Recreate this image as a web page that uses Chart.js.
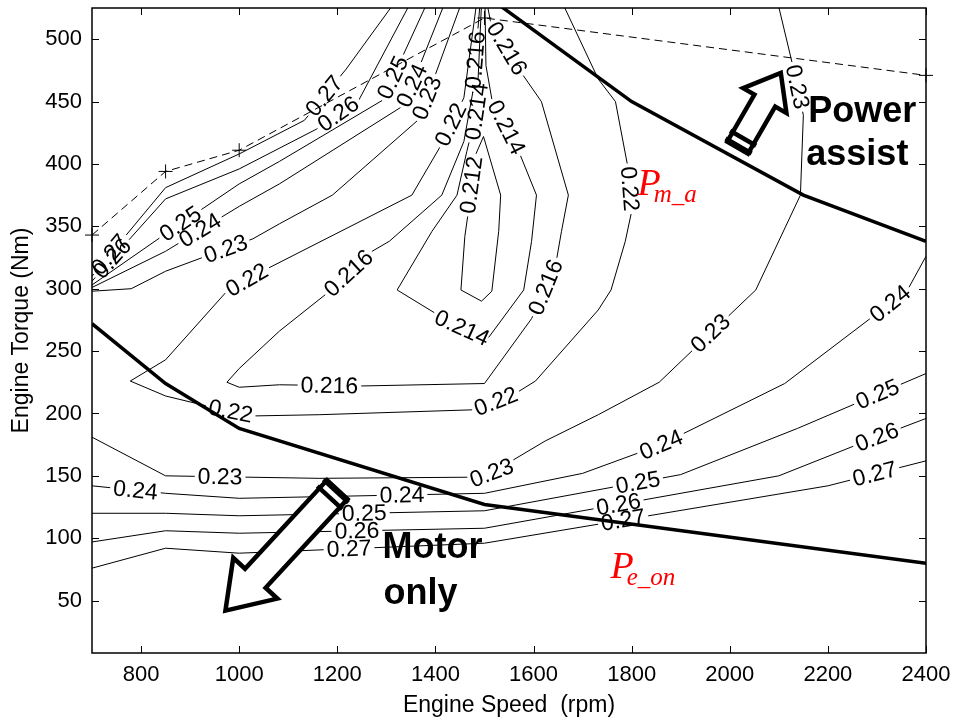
<!DOCTYPE html>
<html>
<head>
<meta charset="utf-8">
<script src="https://cdn.jsdelivr.net/npm/chart.js@4.4.1/dist/chart.umd.min.js"></script>
<style>
  html, body { margin: 0; background: #fff; }
  canvas { display: block; }
</style>
</head>
<body>
<canvas id="bsfcMap" width="958" height="725"></canvas>
<script>
// axis ticks
const rpmTicks = [800, 1000, 1200, 1400, 1600, 1800, 2000, 2200, 2400];
const torqueTicks = [50, 100, 150, 200, 250, 300, 350, 400, 450, 500];

// maximum torque curve
const maxTqRpm = [700, 850, 1000, 1500, 2400];
const maxTqNm = [343, 394, 411, 517, 471];

// engine-on boundary (below: motor only)
const peOnRpm = [700, 850, 1000, 1500, 2400];
const peOnNm = [272, 224, 188, 127, 80];

// motor-assist boundary (above: power assist)
const pmaRpm = [1500, 1800, 2150, 2400];
const pmaNm = [536, 450, 375, 338];

// BSFC iso-lines [rpm, Nm], upper-left fan
const iso027a = [[700,310],[850,381],[1000,408],[1133,435],[1218,476],[1316,529]];
const iso026a = [[700,306],[850,372],[1000,396],[1158,428],[1245,452],[1349,529]];
const iso025a = [[700,303],[850,344],[1000,384],[1082,402],[1292,451],[1383,529]];
const iso024a = [[700,301],[850,330],[1000,366],[1082,384],[1336,447],[1419,529]];
const iso023a = [[700,298],[780,300],[850,314],[1028,340],[1082,352],[1190,375],[1367,436],[1453,529]];
// low-load / right-hand branches
const iso023b = [[700,181],[850,150],[1163,148],[1500,149],[1624,178],[1732,199],[1856,225],[2053,299],[2144,375],[2150,439],[2132,473],[2098,529]];
const iso024b = [[700,142],[850,136],[1000,132],[1500,136],[1700,152],[1860,175],[2112,224],[2286,276],[2361,298],[2400,326]];
const iso025b = [[700,120],[850,120],[1000,118],[1500,122],[1900,151],[2138,188],[2400,232]];
const iso026b = [[700,97],[850,106],[1000,104],[1500,108],[2100,150],[2260,175],[2400,196]];
const iso027b = [[700,76],[850,92],[1000,88],[1500,96],[2200,142],[2400,162]];
// sweet-spot region
const iso022 = [[1484,529],[1458,453],[1407,412],[1352,375],[1052,315],[975,298],[850,243],[778,226],[850,214],[934,206],[1027,198],[1163,199],[1482,203],[1563,216],[1604,226],[1732,283],[1758,299],[1787,338],[1800,362],[1793,396],[1767,450],[1732,468],[1659,529]];
const iso0216 = [[1491,529],[1476,457],[1458,418],[1413,375],[1306,338],[1271,330],[1178,296],[1082,266],[1000,236],[975,225],[1000,221],[1082,223],[1245,222],[1500,224],[1596,276],[1645,319],[1657,346],[1671,375],[1616,450],[1570,476],[1512,515],[1505,529]];
const iso0214 = [[1494,529],[1484,442],[1464,410],[1444,375],[1393,346],[1322,299],[1401,280],[1503,258],[1580,299],[1596,338],[1606,375],[1570,410],[1515,452],[1503,479],[1501,529]];
const iso0212 = [[1498,422],[1476,402],[1472,375],[1460,342],[1452,299],[1494,290],[1515,298],[1529,346],[1533,375],[1498,422]];

// where each line carries its value label [rpm, Nm]
const lab027a = [[741,326],[1178,453]];
const lab026a = [[753,320],[1204,439]];
const lab025a = [[875,355],[1320,468]];
const lab024a = [[920,347],[1363,461]];
const lab023a = [[977,327],[1403,450]];
const lab023b = [[961,146],[1509,156],[1966,262],[2128,461]];
const lab024b = [[788,136],[1332,136],[1860,175],[2327,288]];
const lab025b = [[1255,120],[1813,144],[2307,210]];
const lab026b = [[1240,106],[1772,130],[2301,180]];
const lab027b = [[1224,91],[1783,114],[2297,149]];
const lab022 = [[1434,431],[1017,306],[981,199],[1525,208],[1793,380]];
const lab0216 = [[1488,483],[1224,312],[1184,222],[1631,300],[1543,492]];
const lab0214 = [[1484,442],[1448,264],[1553,431]];
const lab0212 = [[1482,383]];

const isoLines = [
  ['0.27', iso027a, lab027a], ['0.26', iso026a, lab026a], ['0.25', iso025a, lab025a],
  ['0.24', iso024a, lab024a], ['0.23', iso023a, lab023a],
  ['0.23', iso023b, lab023b], ['0.24', iso024b, lab024b], ['0.25', iso025b, lab025b],
  ['0.26', iso026b, lab026b], ['0.27', iso027b, lab027b],
  ['0.22', iso022, lab022], ['0.216', iso0216, lab0216], ['0.214', iso0214, lab0214],
  ['0.212', iso0212, lab0212]
];

// annotation anchors [rpm, Nm]
const assistArrow = [[2016, 413], [2104, 473]];
const motorArrow = [[1200, 139], [972, 42]];

const SANS = '"Liberation Sans", Arial, Helvetica, sans-serif';
const SERIF = '"Liberation Serif", "Times New Roman", serif';
const labelFont = '23px ' + SANS;
let placedLabels = [];

const toXY = (xs, ys) => xs.map((x, i) => ({ x, y: ys[i] }));

const datasets = isoLines.map(([level, pts]) => ({
  label: level,
  data: pts.map(([x, y]) => ({ x, y })),
  borderColor: '#000',
  borderWidth: 1,
  pointRadius: 0,
  tension: 0,
  spanGaps: false,
  order: 3
}));
datasets.push({
  label: 'max torque',
  data: toXY(maxTqRpm, maxTqNm),
  borderColor: '#000',
  borderWidth: 1,
  borderDash: [8, 5],
  pointStyle: 'cross',
  pointRadius: 7,
  pointBorderWidth: 1,
  pointBorderColor: '#000',
  tension: 0,
  clip: false,
  order: 2
});
[[peOnRpm, peOnNm], [pmaRpm, pmaNm]].forEach(([r, t]) => datasets.push({
  label: 'boundary',
  data: toXY(r, t),
  borderColor: '#000',
  borderWidth: 3.5,
  pointRadius: 0,
  tension: 0,
  order: 1
}));

// box around the plot with inward ticks on all four sides
const frame = {
  id: 'frame',
  afterDatasetsDraw(chart) {
    const { ctx, chartArea: a, scales: { x, y } } = chart;
    ctx.save();
    ctx.strokeStyle = '#000';
    ctx.lineWidth = 1;
    ctx.beginPath();
    rpmTicks.forEach(v => {
      const p = Math.round(x.getPixelForValue(v)) + 0.5;
      ctx.moveTo(p, a.bottom); ctx.lineTo(p, a.bottom - 7);
      ctx.moveTo(p, a.top); ctx.lineTo(p, a.top + 7);
    });
    torqueTicks.forEach(v => {
      const p = Math.round(y.getPixelForValue(v)) + 0.5;
      ctx.moveTo(a.left, p); ctx.lineTo(a.left + 7, p);
      ctx.moveTo(a.right, p); ctx.lineTo(a.right - 7, p);
    });
    ctx.stroke();
    ctx.lineWidth = 1.5;
    ctx.strokeRect(a.left, a.top, a.right - a.left, a.bottom - a.top);
    ctx.restore();
  }
};

function blockArrow(ctx, x0, y0, x1, y1, hw, hh, hl) {
  const len = Math.hypot(x1 - x0, y1 - y0);
  ctx.save();
  ctx.translate(x0, y0);
  ctx.rotate(Math.atan2(y1 - y0, x1 - x0));
  ctx.beginPath();
  ctx.moveTo(0, -hw);
  ctx.lineTo(len - hl, -hw);
  ctx.lineTo(len - hl, -hh);
  ctx.lineTo(len, 0);
  ctx.lineTo(len - hl, hh);
  ctx.lineTo(len - hl, hw);
  ctx.lineTo(0, hw);
  ctx.closePath();
  ctx.fillStyle = '#fff';
  ctx.fill();
  ctx.lineWidth = 4.5;
  ctx.lineJoin = 'miter';
  ctx.strokeStyle = '#000';
  ctx.stroke();
  // striped cap at the tail
  [2, 11].forEach(d => {
    ctx.beginPath();
    ctx.moveTo(d, -hw - 3);
    ctx.lineTo(d, hw + 3);
    ctx.stroke();
  });
  ctx.restore();
}

function subscripted(ctx, x, y, main, sub) {
  ctx.font = 'italic 38px ' + SERIF;
  ctx.fillText(main, x, y);
  const w = ctx.measureText(main).width;
  ctx.font = 'italic 25px ' + SERIF;
  ctx.fillText(sub, x + w - 7, y + 7);
}

const notes = {
  id: 'notes',
  afterDraw(chart) {
    const { ctx, scales: { x, y } } = chart;
    const P = ([r, t]) => [x.getPixelForValue(r), y.getPixelForValue(t)];
    ctx.save();
    ctx.fillStyle = '#000';
    ctx.font = labelFont;
    ctx.textAlign = 'center';
    ctx.textBaseline = 'middle';
    placedLabels.forEach(l => {
      ctx.save();
      ctx.translate(l.x, l.y);
      ctx.rotate(l.ang);
      ctx.fillText(l.text, 0, 1);
      ctx.restore();
    });

    blockArrow(ctx, ...P(assistArrow[0]), ...P(assistArrow[1]), 12, 25, 32);
    blockArrow(ctx, ...P(motorArrow[0]), ...P(motorArrow[1]), 14, 30, 44);

    ctx.textAlign = 'left';
    ctx.textBaseline = 'alphabetic';
    ctx.font = 'bold 36px ' + SANS;
    ctx.fillText('Power', ...P([2160, 434]));
    ctx.fillText('assist', ...P([2156, 399]));
    ctx.fillText('Motor', ...P([1292, 84]));
    ctx.fillText('only', ...P([1294, 47]));

    ctx.fillStyle = '#ff0000';
    subscripted(ctx, ...P([1812, 375]), 'P', 'm_a');
    subscripted(ctx, ...P([1757, 68]), 'P', 'e_on');
    ctx.restore();
  }
};

const chart = new Chart(document.getElementById('bsfcMap'), {
  type: 'line',
  data: { datasets },
  options: {
    responsive: false,
    animation: false,
    devicePixelRatio: 1,
    layout: { padding: { top: 7, right: 32, left: 0, bottom: 0 } },
    plugins: { legend: { display: false }, tooltip: { enabled: false } },
    scales: {
      x: {
        type: 'linear',
        min: 700,
        max: 2400,
        grid: { display: false, drawTicks: false },
        border: { display: false },
        afterBuildTicks: s => { s.ticks = rpmTicks.map(v => ({ value: v })); },
        afterFit: s => { s.height = 72; s.paddingLeft = 0; s.paddingRight = 0; },
        ticks: { font: { family: SANS, size: 22 }, color: '#000', padding: 9, maxRotation: 0, autoSkip: false, callback: v => String(v) },
        title: { display: true, text: 'Engine Speed  (rpm)', color: '#000', font: { family: SANS, size: 23 }, padding: { top: 0, bottom: 6 } }
      },
      y: {
        type: 'linear',
        min: 8,
        max: 525,
        grid: { display: false, drawTicks: false },
        border: { display: false },
        afterBuildTicks: s => { s.ticks = torqueTicks.map(v => ({ value: v })); },
        afterFit: s => { s.width = 92; s.paddingTop = 0; s.paddingBottom = 0; },
        ticks: { font: { family: SANS, size: 22 }, color: '#000', padding: 10, autoSkip: false, callback: v => String(v) },
        title: { display: true, text: 'Engine Torque (Nm)', color: '#000', font: { family: SANS, size: 23 }, padding: { top: 8, bottom: 0 } }
      }
    }
  },
  plugins: [frame, notes]
});

// put the value labels on their lines and open a gap in the line under each one
function placeLabels(chart) {
  const xs = chart.scales.x, ys = chart.scales.y, ctx = chart.ctx;
  ctx.save();
  ctx.font = labelFont;
  placedLabels = [];
  isoLines.forEach(([level, pts, anchors], i) => {
    const px = pts.map(([r, t]) => [xs.getPixelForValue(r), ys.getPixelForValue(t)]);
    const cum = [0];
    for (let k = 1; k < px.length; k++) {
      cum.push(cum[k - 1] + Math.hypot(px[k][0] - px[k - 1][0], px[k][1] - px[k - 1][1]));
    }
    const total = cum[cum.length - 1];
    const at = s => {
      s = Math.max(0, Math.min(total, s));
      let k = 1;
      while (k < cum.length - 1 && cum[k] < s) k++;
      const seg = cum[k] - cum[k - 1] || 1;
      const u = (s - cum[k - 1]) / seg;
      return [px[k - 1][0] + u * (px[k][0] - px[k - 1][0]), px[k - 1][1] + u * (px[k][1] - px[k - 1][1])];
    };
    const half = ctx.measureText(level).width / 2 + 3;
    const cuts = [];
    anchors.forEach(anchor => {
      const ax = xs.getPixelForValue(anchor[0]), ay = ys.getPixelForValue(anchor[1]);
      let best = { d: Infinity, s: 0 };
      for (let k = 1; k < px.length; k++) {
        const [x0, y0] = px[k - 1], [x1, y1] = px[k];
        const dx = x1 - x0, dy = y1 - y0, L2 = dx * dx + dy * dy;
        let u = L2 ? ((ax - x0) * dx + (ay - y0) * dy) / L2 : 0;
        u = Math.max(0, Math.min(1, u));
        const d = Math.hypot(ax - (x0 + u * dx), ay - (y0 + u * dy));
        if (d < best.d) best = { d, s: cum[k - 1] + u * Math.sqrt(L2) };
      }
      const s = Math.min(Math.max(best.s, half), total - half);
      const c = at(s), a = at(s - half), b = at(s + half);
      let ang = Math.atan2(b[1] - a[1], b[0] - a[0]);
      if (ang > Math.PI / 2) ang -= Math.PI;
      else if (ang <= -Math.PI / 2) ang += Math.PI;
      placedLabels.push({ text: level, x: c[0], y: c[1], ang });
      cuts.push([s - half, s + half]);
    });
    cuts.sort((p, q) => p[0] - q[0]);
    const toData = ([X, Y]) => ({ x: xs.getValueForPixel(X), y: ys.getValueForPixel(Y) });
    const out = [];
    let ci = 0;
    for (let k = 0; k < px.length; k++) {
      while (ci < cuts.length && cuts[ci][0] <= cum[k]) {
        const a = at(cuts[ci][0]);
        out.push(toData(a));
        out.push({ x: xs.getValueForPixel(a[0]), y: null });
        out.push(toData(at(cuts[ci][1])));
        ci++;
      }
      if (!cuts.some(([c0, c1]) => cum[k] > c0 && cum[k] < c1)) out.push(toData(px[k]));
    }
    chart.data.datasets[i].data = out;
  });
  ctx.restore();
}

placeLabels(chart);
chart.update('none');
</script>
</body>
</html>
